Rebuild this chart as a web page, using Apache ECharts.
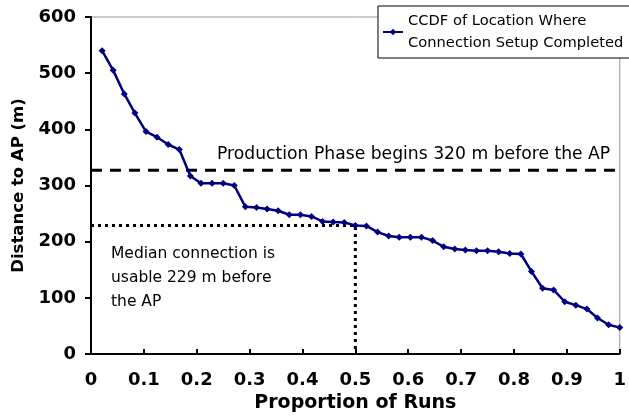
<!DOCTYPE html>
<html>
<head>
<meta charset="utf-8">
<script src="https://cdn.jsdelivr.net/npm/echarts@6/dist/echarts.min.js"></script>
<style>
    html, body { margin: 0; padding: 0; background: #fff; }
    #chart { width: 629px; height: 418px; }
</style>
</head>
<body>
<div id="chart"></div>
<script>
// 数据
const runProportion = [
    0.021, 0.042, 0.063, 0.083, 0.104, 0.125, 0.146, 0.167, 0.188, 0.208,
    0.229, 0.250, 0.271, 0.292, 0.313, 0.333, 0.354, 0.375, 0.396, 0.417,
    0.438, 0.458, 0.479, 0.500, 0.521, 0.542, 0.563, 0.583, 0.604, 0.625,
    0.646, 0.667, 0.688, 0.708, 0.729, 0.750, 0.771, 0.792, 0.813, 0.833,
    0.854, 0.875, 0.896, 0.917, 0.938, 0.958, 0.979, 1.000
]
const distanceToAP = [
    540, 505, 463, 429, 396, 386, 373, 364, 317, 304,
    304, 304, 300, 262, 261, 258, 255, 248, 248, 245,
    236, 235, 234, 229, 228, 217, 210, 208, 208, 208,
    202, 191, 187, 185, 184, 184, 182, 179, 178, 147,
    117, 114, 93, 87, 80, 64, 52, 47
]
const xTicks = [0, 0.1, 0.2, 0.3, 0.4, 0.5, 0.6, 0.7, 0.8, 0.9, 1]
const yTicks = [0, 100, 200, 300, 400, 500, 600]
const productionLine = 327 // 虚线位置
const medianRun = 0.5
const medianDistance = 229

const seriesName = 'CCDF of Location Where\nConnection Setup Completed'
const font = '"DejaVu Sans", Arial, Helvetica, sans-serif'

const chart = echarts.init(document.getElementById('chart'), null, {renderer: 'canvas'})

chart.setOption({
    animation: false,
    textStyle: {fontFamily: font},
    grid: {// 绘图区
        left: 91,
        right: 7,
        top: 17,
        bottom: 64,
        show: true,
        borderColor: '#9a9a9a',
        borderWidth: 1
    },
    legend: {
        left: 378,
        top: 6,
        padding: [4, 10, 4, 4],
        borderColor: '#000',
        borderWidth: 1,
        backgroundColor: '#fff',
        itemWidth: 20,
        itemHeight: 8,
        itemGap: 0,
        textStyle: {fontSize: 14.7, color: '#000', fontFamily: font, lineHeight: 22},
        data: [seriesName]
    },
    xAxis: {
        type: 'value',
        min: xTicks[0],
        max: xTicks[xTicks.length - 1],
        interval: 0.1,
        name: 'Proportion of Runs',
        nameLocation: 'middle',
        nameGap: 35,
        nameTextStyle: {fontSize: 19, fontWeight: 'bold', color: '#000', fontFamily: font},
        axisLine: {show: true, lineStyle: {color: '#000', width: 2}},
        axisTick: {show: true, inside: true, length: 5, lineStyle: {color: '#000', width: 2}},
        axisLabel: {
            fontSize: 18, fontWeight: 'bold', color: '#000', margin: 17,
            formatter: v => String(Math.round(v * 10) / 10)
        },
        splitLine: {show: false}
    },
    yAxis: {
        type: 'value',
        min: yTicks[0],
        max: yTicks[yTicks.length - 1],
        interval: 100,
        name: 'Distance to AP (m)',
        nameLocation: 'middle',
        nameGap: 62,
        nameTextStyle: {fontSize: 16.5, fontWeight: 'bold', color: '#000', fontFamily: font},
        axisLine: {show: true, lineStyle: {color: '#000', width: 2}},
        axisTick: {show: true, inside: false, length: 6, lineStyle: {color: '#000', width: 2}},
        axisLabel: {fontSize: 18, fontWeight: 'bold', color: '#000', margin: 15},
        splitLine: {show: false}
    },
    series: [{
        name: seriesName,
        type: 'line',
        data: runProportion.map((x, i) => [x, distanceToAP[i]]),
        symbol: 'diamond',
        symbolSize: 7,
        lineStyle: {color: '#000080', width: 2.5},
        itemStyle: {color: '#000080'},
        z: 5
    }, {// 生产阶段虚线
        name: 'production',
        type: 'line',
        data: [[xTicks[0], productionLine], [xTicks[xTicks.length - 1], productionLine]],
        symbol: 'none',
        lineStyle: {color: '#000', width: 3, type: [11, 8]},
        z: 3
    }, {// 中位数点线
        name: 'median',
        type: 'line',
        data: [[xTicks[0], medianDistance], [medianRun, medianDistance], [medianRun, 0]],
        symbol: 'none',
        lineStyle: {color: '#000', width: 3, type: [3, 4]},
        z: 3
    }],
    graphic: [{
        type: 'text',
        left: 217,
        top: 146,
        style: {text: 'Production Phase begins 320 m before the AP', font: '17.2px ' + font, fill: '#000'}
    }, {
        type: 'text',
        left: 111,
        top: 242,
        style: {
            text: 'Median connection is\nusable 229 m before\nthe AP',
            font: '15.5px ' + font, lineHeight: 24, fill: '#000'
        }
    }]
})
</script>
</body>
</html>
